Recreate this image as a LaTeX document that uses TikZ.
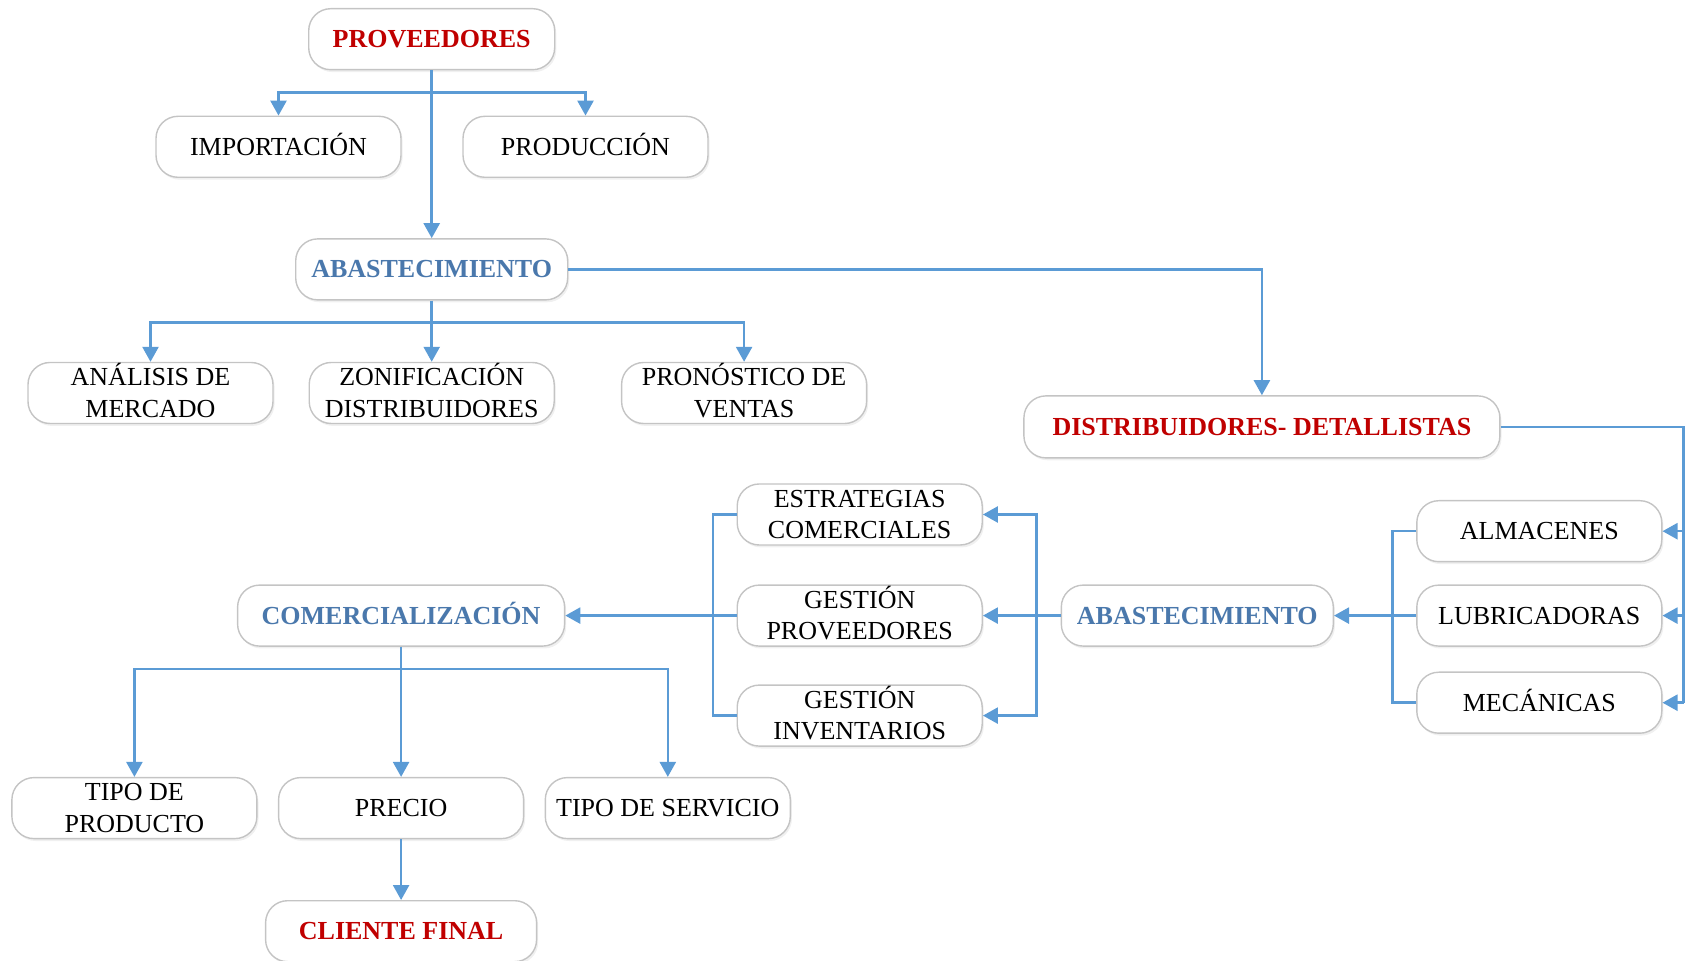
\documentclass[tikz,border=0pt]{standalone}
\usepackage{fontspec}
\setmainfont{Liberation Serif}
\usetikzlibrary{arrows.meta,shadows}
\definecolor{linkblue}{HTML}{5B9BD5}
\definecolor{headred}{HTML}{C00000}
\definecolor{headblue}{HTML}{4A78AC}
\definecolor{boxgray}{HTML}{C4C4C4}
% a line whose accents should not push the text block down
\newcommand\capline[1]{\smash{#1}\vphantom{E}}
\tikzset{
  box/.style={draw=boxgray, line width=0.7pt, fill=white, rounded corners=11pt,
    minimum width=122.5pt, minimum height=30.5pt, align=center, inner sep=2pt,
    font=\fontsize{13}{15.8}\selectfont,
    drop shadow={opacity=0.12, shadow xshift=0.8pt, shadow yshift=-1.2pt}},
  redhead/.style={box, text=headred, font=\fontsize{13}{15.8}\selectfont\bfseries},
  bluehead/.style={box, text=headblue, font=\fontsize{13}{15.8}\selectfont\bfseries},
  link/.style={draw=linkblue, line width=1.25pt},
  arr/.style={link, -{Triangle[length=7.5pt,width=8pt]}},
}
\begin{document}
\begin{tikzpicture}[x=0.5pt, y=-0.5pt]
\useasboundingbox (0,0) rectangle (1686,961);

% upper tree: suppliers and procurement
\node[redhead, minimum width=123pt] (prov) at (431.7,39.2) {PROVEEDORES};
\node[box] (imp)  at (278.5,146.8) {\capline{IMPORTACIÓN}};
\node[box] (prod) at (585.5,146.8) {\capline{PRODUCCIÓN}};
\node[bluehead, minimum width=136pt] (ab1) at (431.7,269.4) {ABASTECIMIENTO};
\node[box] (ana)  at (150.5,393) {\capline{ANÁLISIS DE}\\MERCADO};
\node[box] (zon)  at (431.7,393) {\capline{ZONIFICACIÓN}\\DISTRIBUIDORES};
\node[box] (pron) at (744.1,393) {\capline{PRONÓSTICO DE}\\VENTAS};

% distribution side
\node[redhead, minimum width=238pt, minimum height=31pt] (dist) at (1261.9,426.9) {DISTRIBUIDORES- DETALLISTAS};
\node[box] (alm) at (1539.3,531.2) {ALMACENES};
\node[box] (lub) at (1539.3,615.6) {LUBRICADORAS};
\node[box] (mec) at (1539.3,702.7) {\capline{MECÁNICAS}};
\node[bluehead, minimum width=136pt] (ab2) at (1197.3,615.6) {ABASTECIMIENTO};
\node[box] (est) at (859.7,514.5) {ESTRATEGIAS\\COMERCIALES};
\node[box] (gp)  at (859.7,615.6) {\capline{GESTIÓN}\\PROVEEDORES};
\node[box] (gi)  at (859.7,715.6) {\capline{GESTIÓN}\\INVENTARIOS};

% commercialisation and final customer
\node[bluehead, minimum width=163.5pt] (com) at (401.1,615.6) {\capline{COMERCIALIZACIÓN}};
\node[box] (tpr) at (134.4,808.1) {TIPO DE\\PRODUCTO};
\node[box] (pre) at (401.1,808.1) {PRECIO};
\node[box] (tse) at (667.8,808.1) {TIPO DE SERVICIO};
\node[redhead, minimum width=135.5pt] (cli) at (401.1,931.2) {CLIENTE FINAL};

% junction points and rails
\coordinate (pj) at (431.7,92.5);
\coordinate (aj) at (431.7,322.6);
\coordinate (cj) at (401.1,668.8);
\coordinate (rail) at (1683.5,0);
\coordinate (lrail) at (1392.5,0);
\coordinate (mrail) at (1036.6,0);
\coordinate (crail) at (713,0);

% connectors
\draw[arr] (prov.south) -- (ab1.north);
\draw[arr] (pj) -| (imp.north);
\draw[arr] (pj) -| (prod.north);

\draw[arr] (ab1.south) -- (zon.north);
\draw[arr] (aj) -| (ana.north);
\draw[arr] (aj) -| (pron.north);

\draw[arr] (ab1.east) -| (dist.north);

\draw[link] (dist.east) -- (dist.east -| rail) -- (mec.east -| rail);
\draw[arr] (alm.east -| rail) -- (alm.east);
\draw[arr] (lub.east -| rail) -- (lub.east);
\draw[arr] (mec.east -| rail) -- (mec.east);

\draw[link] (alm.west) -- (alm.west -| lrail) -- (mec.west -| lrail) -- (mec.west);
\draw[arr] (lub.west) -- (ab2.east);

\draw[arr] (ab2.west) -- (gp.east);
\draw[arr] (ab2.west -| mrail) |- (est.east);
\draw[arr] (ab2.west -| mrail) |- (gi.east);

\draw[link] (est.west) -- (est.west -| crail) -- (gi.west -| crail) -- (gi.west);
\draw[arr] (gp.west) -- (com.east);

\draw[arr] (com.south) -- (pre.north);
\draw[arr] (cj) -| (tpr.north);
\draw[arr] (cj) -| (tse.north);

\draw[arr] (pre.south) -- (cli.north);
\end{tikzpicture}
\end{document}
